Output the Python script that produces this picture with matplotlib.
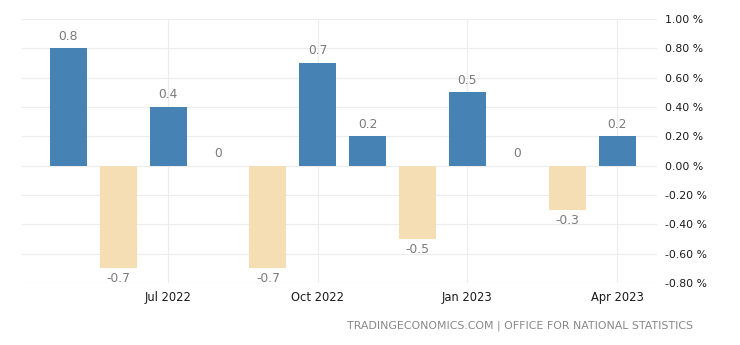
import matplotlib.pyplot as plt
from matplotlib.ticker import FuncFormatter

months = ['May 2022', 'Jun 2022', 'Jul 2022', 'Aug 2022', 'Sep 2022', 'Oct 2022',
          'Nov 2022', 'Dec 2022', 'Jan 2023', 'Feb 2023', 'Mar 2023', 'Apr 2023']
values = [0.8, -0.7, 0.4, 0.0, -0.7, 0.7, 0.2, -0.5, 0.5, 0.0, -0.3, 0.2]
tick_months = ['Jul 2022', 'Oct 2022', 'Jan 2023', 'Apr 2023']
y_ticks = [-0.8, -0.6, -0.4, -0.2, 0.0, 0.2, 0.4, 0.6, 0.8, 1.0]

pos_color = '#4682b4'
neg_color = '#f5deb3'

fig = plt.figure(figsize=(7.4, 3.45), dpi=100)
ax = fig.add_axes([22 / 740, 62 / 345, 635 / 740, 264 / 345])

x = list(range(len(months)))
colors = [pos_color if v >= 0 else neg_color for v in values]
ax.bar(x, values, width=0.74, color=colors, zorder=2)

for xi, v in zip(x, values):
    label = '0' if v == 0 else f'{v:g}'
    if v >= 0:
        ax.annotate(label, (xi, v), xytext=(0, 4), textcoords='offset points',
                    ha='center', va='bottom', fontsize=8.8, color='#7a7a7a')
    else:
        ax.annotate(label, (xi, v), xytext=(0, -3), textcoords='offset points',
                    ha='center', va='top', fontsize=8.8, color='#7a7a7a')

ax.set_xlim(-0.93, 11.8)
ax.set_ylim(-0.8, 1.0)

ax.set_xticks([months.index(m) for m in tick_months])
ax.set_xticklabels(tick_months)
ax.set_yticks(y_ticks)
ax.yaxis.set_major_formatter(FuncFormatter(lambda v, _: f'{v:.2f} %'))
ax.yaxis.tick_right()

ax.tick_params(axis='both', length=0, colors='#1a1a1a')
ax.tick_params(axis='x', labelsize=8.3, pad=6)
ax.tick_params(axis='y', labelsize=7.8, pad=6)

ax.grid(True, color='#ececec', linewidth=0.8, zorder=0)
ax.set_axisbelow(True)
for spine in ax.spines.values():
    spine.set_visible(False)

fig.text(693 / 740, 1 - 326 / 345, 'TRADINGECONOMICS.COM | OFFICE FOR NATIONAL STATISTICS',
         ha='right', va='center', fontsize=7.9, color='#888888')

fig.savefig('out.png', dpi=100)
